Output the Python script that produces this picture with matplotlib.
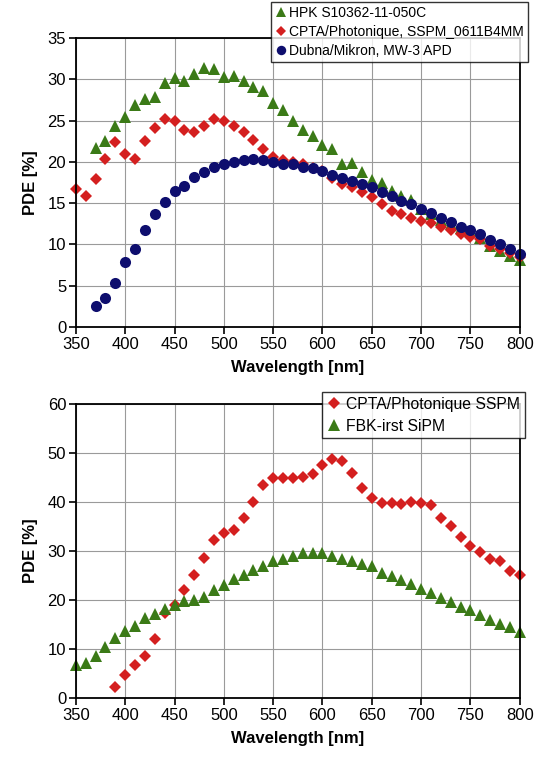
import numpy as np
import matplotlib.pyplot as plt

plt.rcParams["font.family"] = ["Liberation Sans", "DejaVu Sans"]

# top panel: 10 nm steps
wl_hpk = np.arange(370, 801, 10)
pde_hpk = [21.7, 22.5, 24.4, 25.4, 26.9, 27.6, 27.9, 29.5, 30.1, 29.8,
           30.7, 31.4, 31.2, 30.3, 30.4, 29.8, 29.1, 28.6, 27.1, 26.3,
           25.0, 23.9, 23.1, 22.1, 21.5, 19.8, 19.9, 18.8, 17.8, 17.4,
           16.5, 15.9, 15.4, 14.3, 13.7, 13.0, 12.5, 12.0, 11.6, 10.8,
           9.8, 9.2, 8.6, 8.1]

wl_cpta = np.arange(350, 801, 10)
pde_cpta = [16.7, 15.9, 17.9, 20.3, 22.4, 21.0, 20.4, 22.5, 24.1, 25.2,
            24.9, 23.9, 23.6, 24.4, 25.2, 25.0, 24.4, 23.6, 22.6, 21.5,
            20.6, 20.2, 20.0, 19.7, 19.3, 18.9, 18.1, 17.3, 17.0, 16.4,
            15.7, 14.9, 14.1, 13.7, 13.2, 12.8, 12.6, 12.1, 11.7, 11.3,
            10.9, 10.6, 9.8, 9.4, 9.0, 8.5]

wl_dubna = np.arange(370, 801, 10)
pde_dubna = [2.6, 3.5, 5.3, 7.9, 9.4, 11.7, 13.7, 15.2, 16.5, 17.1,
             18.2, 18.8, 19.4, 19.8, 20.0, 20.2, 20.3, 20.2, 20.0, 19.8,
             19.7, 19.4, 19.2, 18.9, 18.4, 18.1, 17.7, 17.3, 17.0, 16.4,
             15.9, 15.3, 14.9, 14.3, 13.8, 13.2, 12.7, 12.1, 11.7, 11.3,
             10.5, 10.0, 9.4, 8.8]

# bottom panel
wl_sspm = np.arange(390, 801, 10)
pde_sspm = [2.2, 4.7, 6.7, 8.5, 12.0, 17.3, 18.9, 22.0, 25.0, 28.6,
            32.3, 33.7, 34.2, 36.7, 40.0, 43.5, 45.0, 44.8, 44.8, 45.1,
            45.8, 47.6, 48.8, 48.3, 45.9, 42.9, 40.8, 39.8, 39.8, 39.6,
            40.1, 39.8, 39.3, 36.7, 35.2, 32.9, 31.0, 29.8, 28.4, 27.9,
            26.0, 25.2]

wl_fbk = np.arange(350, 801, 10)
pde_fbk = [6.7, 7.1, 8.5, 10.4, 12.2, 13.6, 14.6, 16.3, 17.1, 18.2,
           19.0, 19.7, 20.1, 20.7, 22.0, 23.1, 24.3, 25.2, 26.1, 27.0,
           27.9, 28.4, 29.0, 29.5, 29.5, 29.5, 29.0, 28.4, 27.9, 27.4,
           26.9, 25.6, 24.8, 24.1, 23.3, 22.3, 21.4, 20.4, 19.5, 18.6,
           17.9, 17.0, 16.0, 15.2, 14.4, 13.5]

green = "#3b7a17"
red = "#d41f1f"
navy = "#0e0e6e"

fig = plt.figure(figsize=(5.42, 7.63), dpi=100)
ax1 = fig.add_axes([0.140, 0.5714, 0.819, 0.3788])
ax2 = fig.add_axes([0.140, 0.0852, 0.819, 0.3853])


def style(ax, ymax):
    ax.set_xlim(350, 800)
    ax.set_ylim(0, ymax)
    ax.set_xticks(range(350, 801, 50))
    ax.grid(True, color="#9a9a9a", lw=0.8)
    ax.set_axisbelow(True)
    for s in ax.spines.values():
        s.set_linewidth(1.3)
    ax.tick_params(direction="out", length=5, width=1.2, labelsize=12,
                   top=False, right=False, pad=2)
    ax.set_xlabel("Wavelength [nm]", fontsize=12, fontweight="bold", labelpad=6)
    ax.set_ylabel("PDE [%]", fontsize=12, fontweight="bold", labelpad=7)


ax1.plot(wl_hpk, pde_hpk, "^", color=green, ms=8.5, mew=0,
         label="HPK S10362-11-050C", clip_on=False)
ax1.plot(wl_cpta, pde_cpta, "D", color=red, ms=6, mew=0,
         label="CPTA/Photonique, SSPM_0611B4MM", clip_on=False)
ax1.plot(wl_dubna, pde_dubna, "o", color=navy, ms=8, mew=0,
         label="Dubna/Mikron, MW-3 APD", clip_on=False)
style(ax1, 35)
ax1.set_yticks(range(0, 36, 5))
leg1 = ax1.legend(loc="upper right", bbox_to_anchor=(1.018, 1.1246), fontsize=10,
                  frameon=True, fancybox=False, edgecolor="black",
                  handlelength=0.7, handletextpad=0.25, borderpad=0.3,
                  labelspacing=0.36, borderaxespad=0, markerscale=0.85)
leg1.get_frame().set_linewidth(1.0)
leg1.set_zorder(5)

ax2.plot(wl_sspm, pde_sspm, "D", color=red, ms=6, mew=0,
         label="CPTA/Photonique SSPM", clip_on=False)
ax2.plot(wl_fbk, pde_fbk, "^", color=green, ms=8.5, mew=0,
         label="FBK-irst SiPM", clip_on=False)
style(ax2, 60)
ax2.set_yticks(range(0, 61, 10))
leg2 = ax2.legend(loc="upper right", bbox_to_anchor=(1.011, 1.041), fontsize=11.3,
                  frameon=True, fancybox=False, edgecolor="black",
                  handlelength=0.9, handletextpad=0.35, borderpad=0.3,
                  labelspacing=0.45, borderaxespad=0)
leg2.get_frame().set_linewidth(1.0)
leg2.set_zorder(5)

fig.savefig("out.png", dpi=100)
